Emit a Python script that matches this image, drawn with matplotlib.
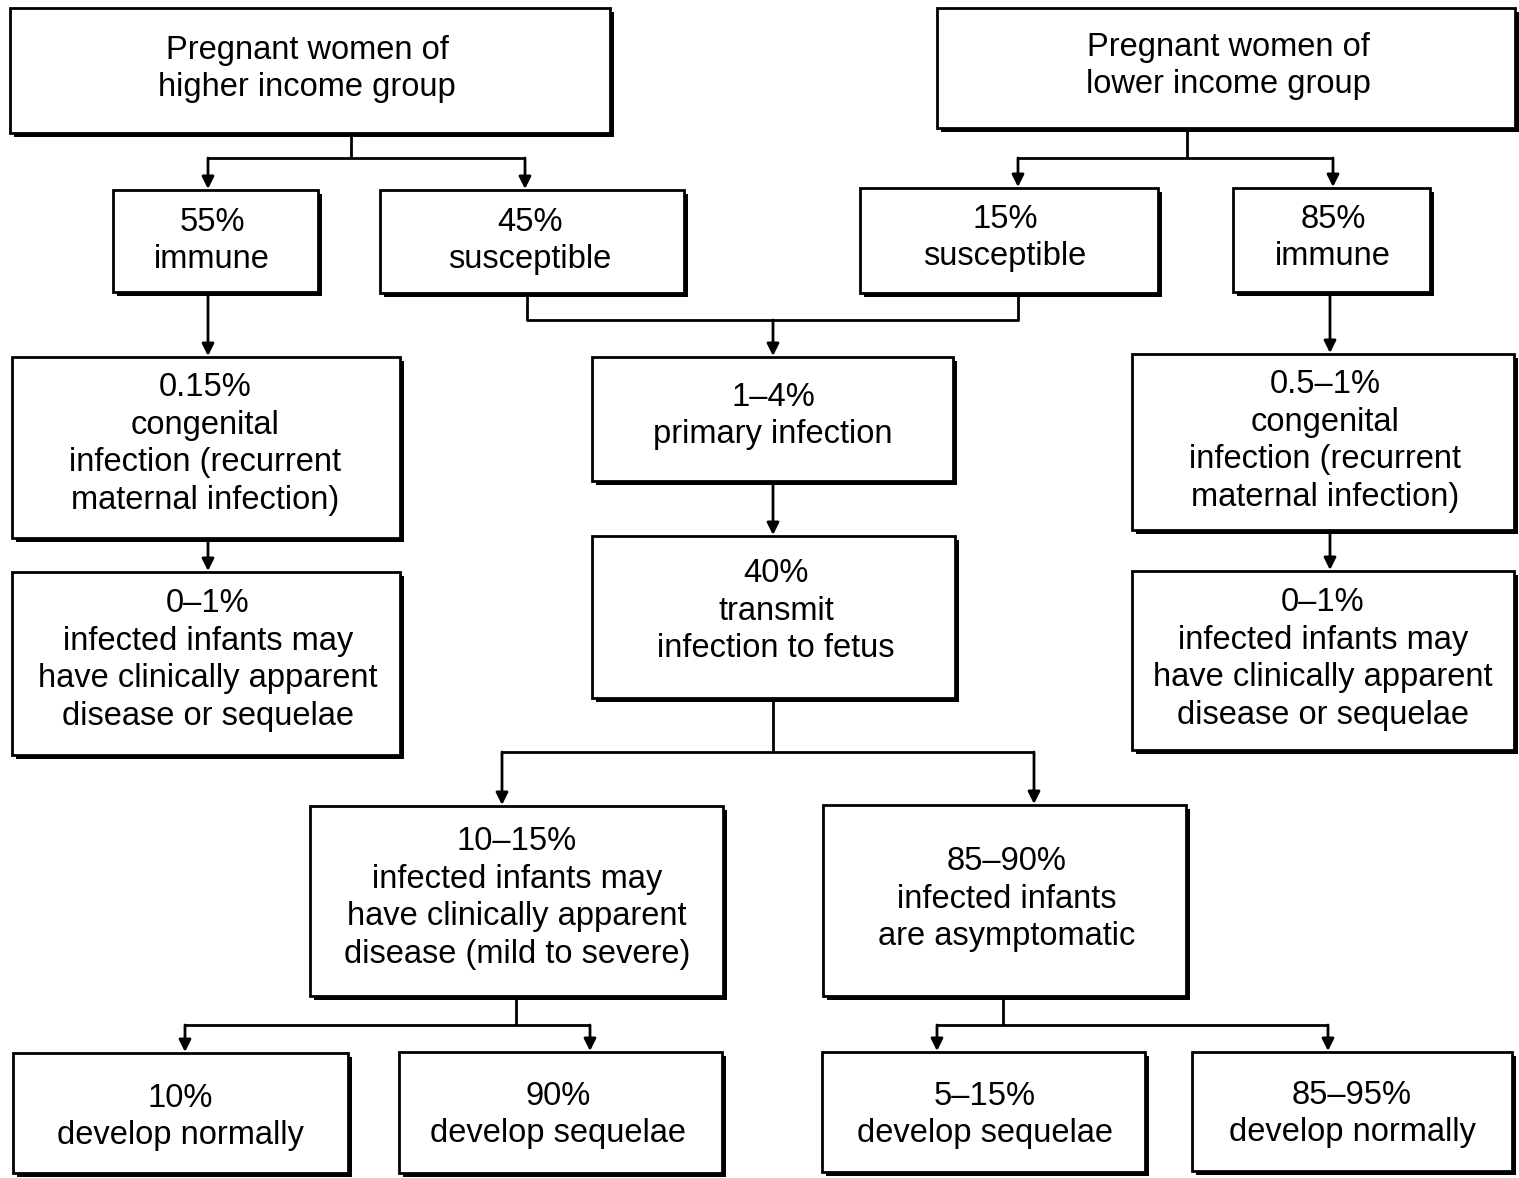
import matplotlib.pyplot as plt
from matplotlib.patches import Rectangle

plt.rcParams['font.family'] = ['Liberation Sans', 'DejaVu Sans']

# box texts
labels = [
    "Pregnant women of\nhigher income group",
    "Pregnant women of\nlower income group",
    "55%\nimmune",
    "45%\nsusceptible",
    "15%\nsusceptible",
    "85%\nimmune",
    "0.15%\ncongenital\ninfection (recurrent\nmaternal infection)",
    "1–4%\nprimary infection",
    "0.5–1%\ncongenital\ninfection (recurrent\nmaternal infection)",
    "0–1%\ninfected infants may\nhave clinically apparent\ndisease or sequelae",
    "40%\ntransmit\ninfection to fetus",
    "0–1%\ninfected infants may\nhave clinically apparent\ndisease or sequelae",
    "10–15%\ninfected infants may\nhave clinically apparent\ndisease (mild to severe)",
    "85–90%\ninfected infants\nare asymptomatic",
    "10%\ndevelop normally",
    "90%\ndevelop sequelae",
    "5–15%\ndevelop sequelae",
    "85–95%\ndevelop normally",
]

# layout in pixels: box (x0, y0, x1, y1) and text centre
boxes = [
    (10, 8, 610, 133), (937, 8, 1515, 128),
    (113, 190, 318, 292), (380, 190, 684, 293),
    (860, 188, 1158, 293), (1233, 188, 1430, 292),
    (12, 357, 400, 538), (592, 357, 953, 481), (1132, 354, 1514, 530),
    (12, 572, 400, 755), (592, 536, 955, 698), (1132, 571, 1514, 750),
    (310, 806, 723, 996), (823, 805, 1186, 996),
    (13, 1053, 348, 1173), (399, 1052, 722, 1173),
    (822, 1052, 1145, 1172), (1192, 1052, 1512, 1171),
]
centres = [
    (307, 69), (1228, 66), (212, 241), (530, 241), (1005, 238), (1333, 238),
    (205, 444), (773, 416), (1325, 441), (208, 660), (776, 611), (1323, 659),
    (517, 898), (1007, 899), (180, 1117), (558, 1115), (985, 1115), (1352, 1114),
]

# connector lines (polylines) and arrows (x, y_from, y_to)
lines = [
    [(351, 133), (351, 158)], [(208, 158), (525, 158)],
    [(1187, 128), (1187, 158)], [(1018, 158), (1333, 158)],
    [(527, 293), (527, 320), (1018, 320), (1018, 293)],
    [(773, 698), (773, 752)], [(502, 752), (1034, 752)],
    [(516, 996), (516, 1025)], [(185, 1025), (590, 1025)],
    [(1003, 996), (1003, 1025)], [(937, 1025), (1328, 1025)],
]
arrows = [
    (208, 158, 189), (525, 158, 189), (1018, 158, 187), (1333, 158, 187),
    (208, 292, 356), (773, 320, 356), (1330, 292, 353),
    (208, 538, 571), (773, 481, 535), (1330, 530, 570),
    (502, 752, 805), (1034, 752, 804),
    (185, 1025, 1052), (590, 1025, 1051), (937, 1025, 1051), (1328, 1025, 1051),
]

fig = plt.figure(figsize=(15.19, 11.78), dpi=100)
ax = fig.add_axes([0, 0, 1, 1])
ax.set_xlim(0, 1519)
ax.set_ylim(1178, 0)
ax.axis('off')

for (x0, y0, x1, y1), (cx, cy), txt in zip(boxes, centres, labels):
    # shadow on right and bottom
    ax.add_patch(Rectangle((x0 + 4, y0 + 4), x1 - x0, y1 - y0,
                           facecolor='black', edgecolor='none', zorder=1))
    ax.add_patch(Rectangle((x0, y0), x1 - x0, y1 - y0,
                           facecolor='white', edgecolor='black', lw=2, zorder=2))
    ax.text(cx, cy, txt, ha='center', va='center', fontsize=23.5,
            linespacing=1.28, zorder=3)

for pts in lines:
    xs, ys = zip(*pts)
    ax.plot(xs, ys, color='black', lw=2, solid_capstyle='butt', zorder=0)

for x, y0, y1 in arrows:
    ax.annotate('', xy=(x, y1), xytext=(x, y0),
                arrowprops=dict(arrowstyle='-|>', color='black', lw=2,
                                mutation_scale=18, shrinkA=0, shrinkB=0),
                zorder=0)

fig.savefig('out.png', dpi=100, facecolor='white')
